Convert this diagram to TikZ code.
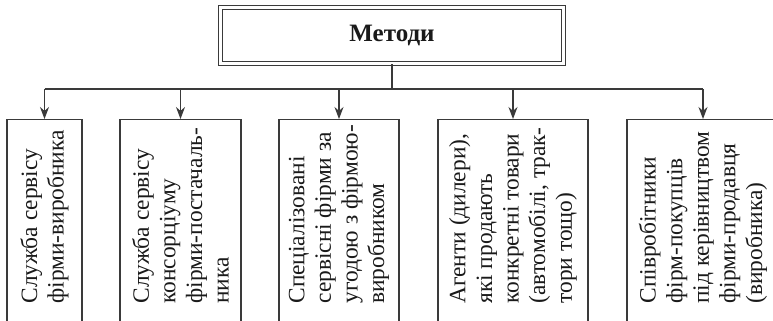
\documentclass[tikz,border=0pt]{standalone}
\usepackage{fontspec}
\setmainfont{Liberation Serif}
\usetikzlibrary{positioning,arrows.meta,calc}
\definecolor{ink}  {HTML}{1A1A1A}
\definecolor{rule} {HTML}{3A3A3A}
\tikzset{
  >=stealth,
  every node/.style={font=\fontsize{11.7}{13.3}\selectfont, text=ink},
  % --- nodes
  head/.style = {draw=rule, double, double distance=1.5pt, line width=0.5pt, fill=white,
                 minimum width=171.5pt, minimum height=28pt,
                 font=\fontsize{12.5}{15}\selectfont\bfseries},
  % --- edges
  e/.style    = {draw=rule, line width=0.6pt},
  ea/.style   = {e, -{Stealth[length=6pt,width=4.5pt]}},
}
\newcommand{\waytext}[1]{\hspace*{16.5pt}\parbox{90pt}{\raggedright #1}}

\begin{document}
\begin{tikzpicture}[x=1pt,y=1pt,
  way/.style={draw=rule, line width=0.6pt, fill=white, rotate=90, anchor=east,
              inner xsep=2pt, inner ysep=0pt},
]
  \useasboundingbox (0,0) rectangle (386.5,-160.5);
  \node[head] (head) at (196,-17.75) {Методи};
  \coordinate (split) at (196,-44.5);
  \node[way, minimum height=37.5pt] (srv)   at (22.25,-59.5)
    {\waytext{Служба сервісу\\фірми-виробника}};
  \node[way, minimum height=60.5pt] (cons)  at (90.25,-59.5)
    {\waytext{Служба сервісу\\консорціуму\\фірми-постачаль-\\ника}};
  \node[way, minimum height=60pt]   (spec)  at (169.5,-59.5)
    {\waytext{Спеціалізовані\\сервісні фірми за\\угодою з фірмою-\\виробником}};
  \node[way, minimum height=75pt]   (agent) at (256.5,-59.5)
    {\waytext{Агенти (дилери),\\які продають\\конкретні товари\\(автомобілі, трак-\\тори тощо)}};
  \node[way, minimum height=76pt]   (staff) at (351.5,-59.5)
    {\waytext{Співробітники\\фірм-покупців\\під керівництвом\\фірми-продавця\\(виробника)}};
  \draw[e] (head.south) -- (split);
  \draw[e] (srv.east |- split) -- (staff.east |- split);
  \foreach \b in {srv,cons,spec,agent,staff}
    \draw[ea] (\b.east |- split) -- (\b.east);
\end{tikzpicture}
\end{document}
